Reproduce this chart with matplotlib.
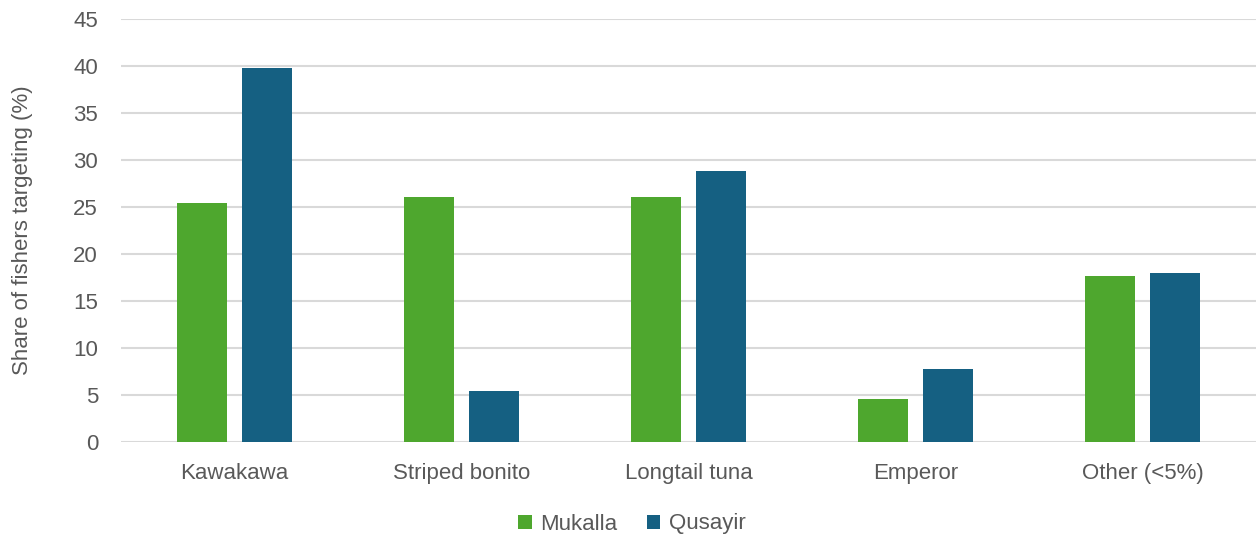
import matplotlib
matplotlib.use("Agg")
import matplotlib.pyplot as plt
import numpy as np

categories = ["Kawakawa", "Striped bonito", "Longtail tuna", "Emperor", "Other (<5%)"]
mukalla = [25.4, 26.1, 26.1, 4.6, 17.7]
qusayir = [39.8, 5.4, 28.8, 7.8, 18.0]
y_ticks = [0, 5, 10, 15, 20, 25, 30, 35, 40, 45]

GREEN = "#4EA72E"
BLUE = "#156082"
TEXT = "#595959"
GRID = "#D9D9D9"
FS = 16

plt.rcParams["font.family"] = ["Liberation Sans", "DejaVu Sans"]

fig = plt.figure(figsize=(12.57, 5.39), dpi=100)
ax = fig.add_axes([121 / 1257, 1 - 442.3 / 539, 1135 / 1257, (442.3 - 18.7) / 539])

x = np.arange(len(categories))
w = 0.224
off = 0.143
ax.bar(x - off, mukalla, width=w, color=GREEN, label="Mukalla", zorder=3)
ax.bar(x + off, qusayir, width=w, color=BLUE, label="Qusayir", zorder=3)

ax.set_xlim(-0.5, len(categories) - 0.5)
ax.set_ylim(0, 45)
ax.set_yticks(y_ticks)
ax.set_yticklabels([str(v) for v in y_ticks])
ax.set_xticks(x)
ax.set_xticklabels(categories)

ax.yaxis.grid(True, color=GRID, linewidth=1.5, zorder=0)
ax.set_axisbelow(True)
for s in ax.spines.values():
    s.set_visible(False)
ax.tick_params(axis="both", length=0, labelsize=FS, labelcolor=TEXT)
ax.tick_params(axis="y", pad=16.5)
ax.tick_params(axis="x", pad=15)

ax.set_ylabel("Share of fishers targeting (%)", fontsize=FS, color=TEXT)
ax.yaxis.set_label_coords(-(121 - 33) / 1135, 0.5)

fig.legend(loc="center", bbox_to_anchor=(632 / 1257, 1 - 524 / 539), ncol=2,
           frameon=False, fontsize=FS, handlelength=0.6, handleheight=0.6,
           handletextpad=0.4, columnspacing=1.3, labelcolor=TEXT)

fig.savefig("out.png", dpi=100)
